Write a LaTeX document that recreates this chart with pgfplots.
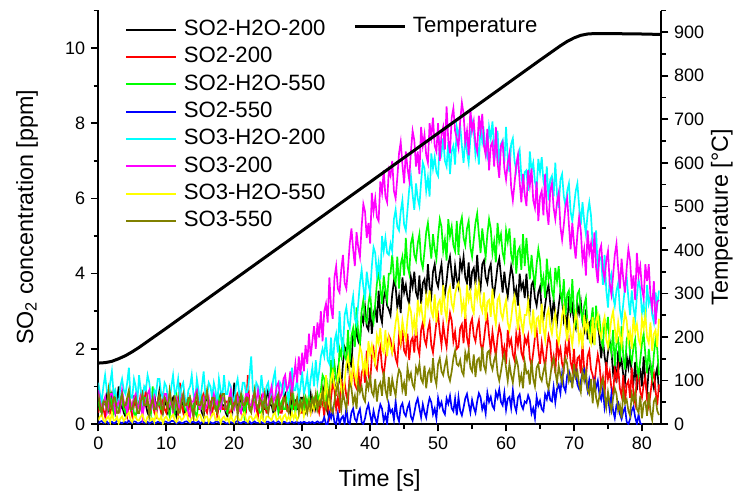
\documentclass[border=0pt]{standalone}
\usepackage{fontspec}
\setmainfont{Liberation Sans}
\usepackage{pgfplots}
\usepackage{pgfplotstable}
\pgfplotsset{compat=1.18}
\definecolor{cblack}{RGB}{0,0,0}
\definecolor{cred}{RGB}{255,0,0}
\definecolor{cgreen}{RGB}{0,255,0}
\definecolor{cblue}{RGB}{0,0,255}
\definecolor{ccyan}{RGB}{0,255,255}
\definecolor{cmagenta}{RGB}{255,0,255}
\definecolor{cyellow}{RGB}{255,255,0}
\definecolor{colive}{RGB}{128,128,0}

\pgfplotstableread{
t a b c d e f g h
0 0.7 0.3 0.6 0.02 1.1 0.9 0.1 0.8
0.25 0.4 0.5 0.4 0.06 0.8 0.6 0.2 0.5
0.5 0.3 0.6 0.3 0.08 0.6 0.4 0.25 0.3
0.75 0.5 0.4 0.6 0.03 1.0 0.5 0.1 0.6
1 0.6 0.2 0.7 0.04 1.3 0.7 0.05 0.6
1.25 0.8 0.5 0.5 0.07 0.9 0.3 0.15 0.4
1.5 0.4 0.7 0.4 0.01 0.7 0.5 0.2 0.9
1.75 0.6 0.3 0.8 0.05 1.1 0.8 0.05 0.5
2 0.8 0.4 0.5 0.06 1.4 0.8 0.3 0.4
2.25 0.5 0.7 0.3 0.02 0.8 0.6 0.1 0.7
2.5 0.3 0.5 0.8 0.03 0.9 0.3 0.1 0.7
2.75 0.6 0.3 0.5 0.08 0.6 0.5 0.2 0.3
3 1.0 0.3 0.4 0.07 0.5 0.6 0.02 0.3
3.25 0.4 0.6 0.7 0.04 1.0 0.4 0.15 0.6
3.5 0.5 0.8 0.6 0.02 1.2 0.9 0.2 0.8
3.75 0.3 0.5 0.4 0.06 0.9 0.6 0.08 0.5
4 0.2 0.4 0.3 0.05 0.8 0.5 0.15 0.5
4.25 0.6 0.2 0.6 0.03 1.1 0.3 0.25 0.7
4.5 0.7 0.6 0.7 0.09 1.5 0.7 0.3 0.9
4.75 0.4 0.4 0.4 0.04 0.7 0.6 0.1 0.4
5 0.4 0.2 0.5 0.03 0.7 0.4 0.05 0.4
5.25 0.7 0.5 0.3 0.07 1.2 0.7 0.2 0.6
5.5 0.6 0.7 0.2 0.06 1.0 0.8 0.2 0.7
5.75 0.3 0.4 0.5 0.02 0.6 0.4 0.1 0.3
6 0.3 0.5 0.6 0.02 1.3 0.5 0.1 0.3
6.25 0.5 0.8 0.4 0.05 0.9 0.7 0.2 0.6
6.5 0.8 0.3 0.4 0.08 0.6 0.2 0.25 0.8
6.75 0.6 0.6 0.7 0.03 1.0 0.5 0.1 0.5
7 0.5 0.9 0.7 0.04 0.9 0.6 0.05 0.5
7.25 0.3 0.5 0.5 0.06 1.3 0.8 0.2 0.7
7.5 0.2 0.4 0.5 0.01 1.1 0.9 0.2 0.2
7.75 0.5 0.6 0.3 0.04 0.7 0.4 0.1 0.5
8 0.6 0.6 1.0 0.07 0.5 0.5 0.15 0.7
8.25 0.8 0.3 0.6 0.02 0.9 0.7 0.05 0.4
8.5 0.4 0.2 0.3 0.03 0.8 0.3 0.3 0.4
8.75 0.6 0.5 0.5 0.06 1.2 0.6 0.15 0.6
9 0.9 0.5 0.6 0.05 1.2 0.7 0.1 0.8
9.25 0.5 0.3 0.4 0.03 0.8 0.5 0.2 0.5
9.5 0.3 0.7 0.4 0.02 0.7 0.4 0.02 0.3
9.75 0.5 0.4 0.7 0.07 1.1 0.8 0.15 0.7
10 0.6 0.3 0.7 0.06 1.0 0.8 0.2 0.6
10.25 0.3 0.6 0.4 0.03 0.7 0.4 0.1 0.4
10.5 0.4 0.8 0.2 0.04 0.6 0.5 0.1 0.9
10.75 0.6 0.5 0.6 0.08 1.0 0.6 0.2 0.6
11 0.7 0.4 0.5 0.08 1.3 0.3 0.25 0.4
11.25 0.4 0.7 0.3 0.05 0.8 0.6 0.1 0.7
11.5 0.2 0.6 0.8 0.01 0.9 0.7 0.05 0.6
11.75 0.5 0.3 0.5 0.04 1.2 0.5 0.2 0.3
12 0.8 1.1 0.4 0.05 0.7 0.4 0.2 0.3
12.25 0.6 0.5 0.7 0.02 1.0 0.7 0.1 0.6
12.5 0.5 0.3 0.6 0.03 1.1 0.8 0.15 0.8
12.75 0.3 0.6 0.4 0.06 0.7 0.5 0.25 0.5
13 0.3 0.5 0.3 0.07 0.5 0.5 0.3 0.5
13.25 0.6 0.3 0.6 0.04 0.9 0.3 0.1 0.7
13.5 0.6 0.7 0.7 0.02 1.0 0.2 0.05 0.7
13.75 0.4 0.5 0.4 0.05 1.3 0.6 0.15 0.4
14 0.4 0.2 0.5 0.06 0.8 0.6 0.2 0.2
14.25 0.7 0.5 0.3 0.03 0.6 0.8 0.1 0.6
14.5 0.9 0.6 0.2 0.04 1.2 0.9 0.1 0.8
14.75 0.5 0.4 0.6 0.07 0.9 0.5 0.25 0.5
15 0.5 0.4 0.6 0.01 0.6 0.4 0.25 0.5
15.25 0.3 0.7 0.4 0.05 1.0 0.6 0.1 0.7
15.5 0.2 0.8 0.4 0.08 1.4 0.7 0.05 0.3
15.75 0.6 0.4 0.7 0.03 0.8 0.4 0.2 0.6
16 0.7 0.3 0.8 0.03 0.7 0.5 0.2 0.9
16.25 0.5 0.6 0.5 0.06 1.1 0.7 0.05 0.5
16.5 0.4 0.6 0.3 0.05 1.0 0.3 0.15 0.4
16.75 0.7 0.3 0.6 0.02 0.7 0.6 0.25 0.7
17 0.6 0.5 0.6 0.02 1.1 0.8 0.3 0.7
17.25 0.4 0.7 0.4 0.06 0.9 0.5 0.1 0.4
17.5 0.3 0.2 0.5 0.07 0.5 0.6 0.1 0.3
17.75 0.6 0.5 0.7 0.03 1.2 0.4 0.2 0.6
18 0.8 0.7 0.4 0.04 0.9 0.4 0.02 0.6
18.25 0.5 0.4 0.6 0.07 0.7 0.7 0.15 0.8
18.5 0.5 0.4 0.7 0.06 1.3 0.7 0.2 0.8
18.75 0.3 0.6 0.4 0.02 0.8 0.4 0.1 0.4
19 0.2 0.6 0.3 0.01 0.8 0.5 0.15 0.4
19.25 0.6 0.3 0.5 0.05 1.1 0.7 0.05 0.7
19.5 0.7 0.3 0.6 0.05 1.0 0.9 0.25 0.7
19.75 0.4 0.6 0.4 0.03 0.7 0.5 0.1 0.4
20 1.1 0.5 0.4 0.03 0.6 0.4 0.05 0.5
20.25 0.6 0.7 0.6 0.06 1.0 0.6 0.2 0.7
20.5 0.4 0.8 0.7 0.08 1.2 0.7 0.2 0.2
20.75 0.7 0.4 0.4 0.03 0.8 0.4 0.1 0.6
21 0.6 0.3 0.5 0.02 0.7 0.3 0.1 0.8
21.25 0.4 0.6 0.7 0.05 1.1 0.6 0.25 0.5
21.5 0.3 0.6 0.2 0.06 1.1 0.6 0.3 0.5
21.75 0.6 0.4 0.5 0.02 0.8 0.8 0.1 0.7
22 0.7 1.3 0.6 0.04 0.9 0.8 0.05 0.7
22.25 0.4 0.5 0.4 0.07 1.3 0.5 0.2 0.4
22.5 0.5 0.4 0.4 0.01 1.8 0.5 0.2 0.3
22.75 0.6 0.7 0.7 0.04 0.9 0.7 0.1 0.6
23 0.8 0.6 0.8 0.07 0.7 0.4 0.15 0.9
23.25 0.5 0.4 0.5 0.03 1.1 0.6 0.25 0.5
23.5 0.3 0.2 0.5 0.03 1.0 0.9 0.1 0.4
23.75 0.6 0.5 0.3 0.06 0.7 0.6 0.05 0.7
24 0.6 0.7 0.3 0.05 1.3 0.6 0.25 0.6
24.25 0.4 0.4 0.6 0.02 0.9 0.8 0.1 0.3
24.5 0.4 0.5 0.6 0.02 0.6 0.7 0.05 0.8
24.75 0.7 0.3 0.4 0.06 1.0 0.5 0.2 0.5
25 0.9 0.3 0.4 0.06 1.1 0.5 0.2 0.3
25.25 0.5 0.6 0.6 0.03 0.7 0.8 0.15 0.6
25.5 0.5 0.8 0.7 0.04 0.8 1.0 0.1 0.7
25.75 0.3 0.5 0.4 0.07 1.2 0.6 0.25 0.4
26 0.3 0.4 0.5 0.01 1.4 0.7 0.3 0.5
26.25 0.6 0.6 0.7 0.05 0.8 1.0 0.1 0.7
26.5 0.7 0.6 0.3 0.07 0.7 1.1 0.15 0.8
26.75 0.4 0.3 0.5 0.03 1.1 0.7 0.2 0.4
27 0.4 0.3 0.6 0.03 1.0 0.8 0.05 0.4
27.25 0.7 0.6 0.4 0.06 0.8 1.2 0.2 0.7
27.5 0.8 0.7 0.4 0.05 1.2 1.3 0.25 0.6
27.75 0.5 0.4 0.7 0.02 0.9 0.9 0.1 0.4
28 0.5 0.5 0.8 0.02 0.6 1.0 0.2 0.3
28.25 0.3 0.8 0.5 0.05 1.1 1.4 0.1 0.6
28.5 0.7 1.1 0.4 0.06 1.5 0.8 0.3 0.8
28.75 0.5 0.4 0.7 0.03 0.9 1.2 0.15 0.5
29 0.6 0.4 0.3 0.04 0.9 1.6 0.3 0.5
29.25 0.4 0.6 0.6 0.07 1.2 1.1 0.1 0.7
29.5 0.4 0.6 0.6 0.01 0.7 1.8 0.2 0.3
29.75 0.7 0.3 0.4 0.05 1.0 1.3 0.35 0.6
30 0.7 0.3 0.6 0.03 1.4 1.9 0.5 0.4
30.25 0.4 0.6 0.4 0.06 0.8 1.4 0.2 0.7
30.5 0.3 0.7 0.7 0.04 1.0 2.1 0.4 0.5
30.75 0.6 0.4 0.5 0.02 1.3 1.6 0.3 0.3
31 0.5 0.5 0.8 0.05 0.8 2.4 0.6 0.6
31.25 0.8 0.3 0.4 0.03 1.2 1.8 0.3 0.4
31.5 0.4 0.6 0.6 0.06 1.5 2.2 0.5 0.7
31.75 0.6 0.4 0.7 0.02 1.0 2.6 0.4 0.5
32 0.4 0.7 0.5 0.04 1.7 2.0 0.7 0.8
32.25 0.7 0.5 0.8 0.07 1.1 2.7 0.4 0.4
32.5 0.5 0.3 0.6 0.03 1.4 2.3 0.6 0.6
32.75 0.8 0.6 0.9 0.05 1.8 3.0 0.8 0.5
33 0.75 0.6 1.3 0.05 2.0 2.2 0.85 0.9
33.25 1.0 0.2 1.2 0.18 1.8 3.0 0.45 0.5
33.5 0.45 0.8 0.6 0.0 2.3 3.2 1.3 0.4
33.75 0.3 0.45 1.0 0.0 1.7 2.7 0.7 0.7
34 0.7 0.2 0.5 0.31 1.6 3.9 0.5 0.9
34.25 1.2 0.7 1.7 0.16 2.3 3.1 1.2 0.4
34.5 1.45 1.1 1.25 0.37 1.5 2.8 1.4 0.3
34.75 1.1 0.9 1.6 0.04 2.2 3.9 1.0 0.6
35 0.75 0.4 1.2 0.0 2.4 4.2 0.85 0.9
35.25 1.4 0.7 1.1 0.29 1.9 3.6 1.25 1.05
35.5 1.15 0.3 2.0 0.0 3.0 3.5 1.5 0.7
35.75 1.0 1.2 1.8 0.15 2.25 4.1 0.9 0.4
36 1.6 0.85 2.3 0.21 2.0 4.5 0.75 0.85
36.25 2.05 1.1 1.8 0.0 2.9 3.75 1.15 0.6
36.5 1.95 0.75 1.7 0.44 3.1 3.6 1.6 0.4
36.75 1.5 0.6 2.5 0.05 2.7 4.15 1.8 0.8
37 1.85 1.35 1.65 0.0 2.55 4.8 1.4 1.1
37.25 1.5 1.15 2.35 0.31 3.1 5.2 1.05 0.95
37.5 2.5 1.55 2.55 0.41 3.4 4.65 1.65 0.55
37.75 2.2 1.05 2.05 0.14 2.8 4.2 1.3 0.75
38 2.5 0.95 3.1 0.06 2.65 5.1 1.1 0.4
38.25 2.2 1.55 2.4 0.28 3.2 4.7 1.65 1.1
38.5 2.1 0.85 2.15 0.4 3.75 4.45 2.05 0.85
38.75 2.9 1.35 3.0 0.05 4.1 5.25 1.9 1.0
39 2.7 1.5 3.3 0.0 3.65 5.85 1.4 0.7
39.25 3.1 1.1 2.8 0.15 3.3 5.65 1.7 0.6
39.5 2.6 1.95 2.7 0.39 4.05 4.95 1.3 1.15
39.75 2.5 1.3 3.2 0.52 3.7 5.35 2.2 0.95
40 3.1 1.1 3.5 0.25 3.5 4.8 1.85 1.25
40.25 2.4 1.8 2.9 0.02 4.2 6.15 2.1 0.85
40.5 2.95 2.0 2.7 0.35 4.7 5.65 1.75 0.75
40.75 3.1 1.55 3.2 0.15 4.55 6.0 1.6 1.2
41 2.7 1.45 3.75 0.0 3.95 5.5 2.35 0.6
41.25 3.55 1.85 4.1 0.31 4.3 5.4 2.15 1.0
41.5 2.9 2.05 3.6 0.52 3.85 6.45 2.55 1.1
41.75 2.7 1.5 3.2 0.41 5.0 6.15 2.0 0.75
42 3.35 1.3 3.95 0.08 4.6 6.75 1.9 1.4
42.25 3.55 1.7 3.55 0.24 4.95 6.05 2.5 0.9
42.5 3.15 2.1 3.3 0.0 4.55 5.9 1.8 0.7
42.75 3.05 2.35 4.0 0.52 4.5 6.75 2.3 1.25
43 2.9 2.25 4.0 0.31 4.8 6.6 2.05 0.75
43.25 3.45 1.9 4.5 0.38 4.6 7.0 1.9 1.2
43.5 3.8 2.1 3.9 0.11 5.45 6.2 2.3 0.95
43.75 3.65 1.75 3.75 0.6 5.7 6.0 2.7 0.75
44 3.1 1.6 4.45 0.21 5.25 6.55 2.95 1.2
44.25 3.4 2.35 3.6 0.07 5.15 7.2 2.55 1.45
44.5 2.95 2.1 4.25 0.46 5.65 7.5 2.2 1.35
44.75 3.9 2.5 4.45 0.55 5.95 6.9 2.75 0.9
45 3.5 1.95 3.95 0.29 5.3 6.4 2.45 1.1
45.25 3.7 1.85 4.95 0.21 5.15 7.25 2.25 0.75
45.5 3.35 2.4 4.2 0.43 5.7 6.8 2.8 1.5
45.75 3.2 1.7 4.0 0.55 6.25 6.5 3.15 1.2
46 3.9 2.2 4.8 0.2 6.6 7.25 3.0 1.35
46.25 3.65 2.3 5.0 0.09 6.1 7.8 2.5 1.05
46.5 4.05 1.9 4.5 0.3 5.7 7.55 2.8 0.95
46.75 3.5 2.7 4.35 0.55 6.4 6.85 2.35 1.5
47 3.35 2.05 4.8 0.68 6.0 7.25 3.3 1.35
47.25 3.95 1.85 5.05 0.42 5.8 6.65 2.95 1.6
47.5 3.2 2.5 4.35 0.18 6.45 7.9 3.15 1.2
47.75 3.75 2.7 4.15 0.52 6.95 7.4 2.8 1.1
48 3.85 2.25 4.6 0.31 6.8 7.7 2.65 1.55
48.25 3.45 2.1 5.1 0.17 6.2 7.15 3.4 0.95
48.5 4.25 2.5 5.35 0.48 6.55 6.95 3.15 1.35
48.75 3.65 2.7 4.85 0.69 6.05 8.0 3.55 1.45
49 3.4 2.1 4.4 0.58 7.2 7.65 3.0 1.1
49.25 4.05 1.9 5.05 0.26 6.8 8.15 2.85 1.75
49.5 4.25 2.3 4.65 0.41 7.1 7.4 3.45 1.25
49.75 3.8 2.7 4.4 0.15 6.7 7.25 2.7 1.05
50 3.65 2.9 5.0 0.69 6.6 8.0 3.2 1.6
50.25 4.0 2.45 5.45 0.46 7.45 7.0 3.3 1.75
50.5 4.25 2.1 5.25 0.58 7.2 7.7 2.9 1.4
50.75 3.65 2.65 4.6 0.35 7.6 7.9 3.7 1.3
51 3.45 2.3 4.9 0.26 7.0 7.3 3.05 1.55
51.25 3.8 2.05 4.35 0.68 6.85 8.45 2.8 1.75
51.5 4.25 2.6 5.45 0.54 7.5 7.55 3.5 1.3
51.75 4.45 2.95 5.0 0.75 6.65 7.2 3.65 1.15
52 4.0 2.75 5.25 0.42 7.25 8.15 3.2 1.4
52.25 3.6 2.2 4.75 0.34 7.4 8.4 3.05 1.75
52.5 4.2 2.45 4.6 0.67 6.9 7.8 3.45 1.95
52.75 3.85 2.0 5.4 0.23 7.9 7.6 3.65 1.6
53 3.65 2.05 4.5 0.71 7.65 7.35 3.75 1.55
53.25 4.35 2.55 5.3 0.35 7.95 8.05 3.55 1.7
53.5 4.1 2.65 5.5 0.23 7.4 8.55 3.0 1.4
53.75 4.45 2.15 4.95 0.44 6.95 8.25 3.25 1.3
54 3.9 2.95 4.75 0.68 7.65 7.5 2.8 1.9
54.25 3.75 2.3 5.2 0.8 7.25 7.8 3.7 1.7
54.5 4.3 2.05 5.4 0.54 6.95 7.15 3.3 1.95
54.75 3.55 2.65 4.7 0.31 7.6 8.4 3.5 1.5
55 4.05 2.8 4.45 0.64 8.05 7.8 3.1 1.4
55.25 4.15 2.35 4.9 0.44 7.8 8.05 2.95 1.85
55.5 3.7 2.2 5.35 0.3 7.15 7.45 3.65 1.25
55.75 4.5 2.55 5.6 0.6 7.45 7.25 3.35 1.7
56 3.85 2.75 5.05 0.82 6.9 8.2 3.7 1.75
56.25 3.6 2.15 4.55 0.71 8.0 7.8 3.15 1.4
56.5 4.25 1.95 5.2 0.39 7.5 8.25 3.0 2.05
56.75 4.35 2.25 4.8 0.54 7.75 7.4 3.5 1.55
57 3.9 2.65 4.45 0.28 7.25 7.15 2.75 1.4
57.25 3.75 2.85 5.05 0.83 7.1 7.85 3.25 1.9
57.5 4.1 2.35 5.45 0.59 7.9 6.75 3.3 1.95
57.75 4.25 1.95 5.2 0.72 7.6 7.4 2.85 1.6
58 3.65 2.45 4.55 0.48 8.05 7.5 3.6 1.45
58.25 3.45 2.1 4.85 0.4 7.35 6.85 2.95 1.7
58.5 3.8 1.8 4.3 0.84 7.15 7.9 2.65 1.85
58.75 4.2 2.3 5.35 0.7 7.8 6.95 3.3 1.35
59 4.4 2.6 4.85 0.92 6.85 6.55 3.4 1.15
59.25 3.95 2.4 5.05 0.59 7.45 7.4 2.95 1.4
59.5 3.5 1.85 4.55 0.5 7.55 7.5 2.8 1.7
59.75 4.05 2.05 4.35 0.83 6.95 6.8 3.1 1.85
60 3.65 1.6 5.15 0.38 7.9 6.5 3.3 1.5
60.25 3.4 2.5 4.85 0.67 7.05 6.95 2.7 1.15
60.5 3.85 2.1 5.2 0.72 6.7 7.2 2.5 1.6
60.75 4.2 2.25 4.5 0.43 7.45 6.3 2.8 1.3
61 3.95 1.85 4.3 0.9 7.6 5.95 3.2 1.1
61.25 3.4 1.7 4.95 0.5 7.0 6.4 3.4 1.45
61.5 3.6 2.4 4.0 0.34 6.75 6.9 2.95 1.75
61.75 3.15 2.1 4.6 0.71 7.15 7.15 2.5 1.55
62 4.0 2.45 4.7 0.79 7.3 6.45 3.05 1.1
62.25 3.6 1.9 4.1 0.51 6.6 5.9 2.7 1.3
62.5 3.75 1.75 5.05 0.4 6.3 6.65 2.45 0.95
62.75 3.35 2.3 4.2 0.6 6.7 6.1 2.9 1.65
63 4.0 2.15 4.95 0.56 6.75 5.8 2.9 1.35
63.25 3.35 2.35 4.35 0.76 6.2 6.75 3.25 1.4
63.5 3.05 1.75 3.85 0.63 7.25 6.35 2.7 1.05
63.75 3.7 1.55 4.5 0.28 6.75 6.8 2.5 1.7
64 3.8 1.9 4.0 0.42 6.95 5.95 3.05 1.2
64.25 3.35 2.3 3.7 0.16 6.45 5.75 2.3 1.0
64.5 3.15 2.5 4.25 0.72 6.25 6.45 2.8 1.5
64.75 3.5 2.0 4.65 0.49 7.05 5.4 2.85 1.6
65 3.65 1.6 4.35 0.62 6.7 6.05 2.4 1.25
65.25 3.05 2.15 3.65 0.4 7.1 6.2 3.2 1.15
65.5 2.8 1.8 3.9 0.34 6.45 5.55 2.55 1.4
65.75 3.15 1.5 3.35 0.79 6.25 6.65 2.25 1.6
66 3.5 2.0 4.4 0.66 6.85 5.7 2.9 1.1
66.25 3.7 2.35 3.85 0.92 5.95 5.3 3.05 0.95
66.5 3.2 2.15 4.05 0.64 6.5 6.2 2.6 1.25
66.75 2.8 1.55 3.55 0.6 6.6 6.4 2.4 1.6
67 3.3 1.8 3.35 0.98 6.05 5.75 2.75 1.75
67.25 2.95 1.35 4.15 0.58 6.95 5.45 2.95 1.4
67.5 2.7 2.25 3.8 0.93 6.1 5.9 2.35 1.1
67.75 3.15 1.8 4.2 1.04 5.75 6.15 2.15 1.55
68 3.5 2.0 3.5 0.82 6.5 5.25 2.5 1.3
68.25 3.3 1.6 3.25 1.34 6.65 4.9 2.9 1.1
68.5 2.75 1.45 3.85 0.99 6.05 5.3 3.1 1.5
68.75 2.95 2.1 2.9 0.87 5.8 5.8 2.6 1.75
69 2.5 1.85 3.45 1.3 6.2 6.0 2.2 1.6
69.25 3.4 2.2 3.55 1.4 6.4 5.3 2.75 1.15
69.5 2.95 1.65 2.95 1.15 5.65 4.65 2.4 1.3
69.75 3.15 1.45 3.85 1.07 5.4 5.35 2.1 0.95
70 2.7 2.0 3.0 1.29 5.8 4.8 2.6 1.6
70.25 2.55 1.25 2.7 1.41 6.2 4.4 2.95 1.25
70.5 3.2 1.75 3.45 1.05 6.4 5.05 2.75 1.4
70.75 2.95 1.8 3.55 0.93 5.8 5.5 2.2 1.05
71 3.25 1.35 3.0 1.14 5.3 5.15 2.45 0.85
71.25 2.7 2.15 2.75 1.36 5.9 4.35 2.0 1.4
71.5 2.5 1.45 3.15 1.45 5.4 4.65 2.9 1.15
71.75 3.05 1.2 3.35 1.16 5.05 3.95 2.5 1.4
72 2.25 1.8 2.6 0.89 5.6 5.15 2.7 0.9
72.25 2.7 1.95 2.3 1.18 5.9 4.55 2.3 0.8
72.5 2.75 1.45 2.7 0.94 5.55 4.8 2.15 1.2
72.75 2.25 1.3 3.1 0.75 4.75 4.15 2.85 0.55
73 2.4 1.05 2.1 1.16 4.7 5.1 2.1 1.2
73.25 2.7 1.5 3.15 0.97 5.15 4.15 2.75 0.7
73.5 2.8 1.85 2.6 1.15 4.05 3.75 2.9 0.5
73.75 2.25 1.6 2.8 0.78 4.45 4.6 2.45 0.75
74 1.75 1.0 2.25 0.65 4.4 4.75 2.3 1.05
74.25 2.25 1.25 2.05 0.93 3.7 4.1 2.65 1.2
74.5 1.8 0.75 2.8 0.43 4.5 3.85 2.85 0.8
74.75 1.5 1.65 2.45 0.68 3.55 4.35 2.25 0.45
75 1.9 1.2 2.85 0.69 3.1 4.6 2.05 0.85
75.25 2.2 1.4 2.15 0.37 3.85 3.75 2.4 0.55
75.5 1.95 0.95 1.9 0.8 4.0 3.45 2.8 0.35
75.75 1.35 0.8 2.5 0.36 3.4 3.95 3.0 0.7
76 1.55 1.45 1.55 0.16 3.15 4.5 2.55 0.95
76.25 1.1 1.2 2.15 0.51 3.55 4.8 2.15 0.8
76.5 1.95 1.5 2.25 0.57 3.75 4.15 2.7 0.35
76.75 1.55 0.95 1.65 0.26 3.05 3.6 2.35 0.5
77 1.7 0.75 2.6 0.13 2.75 4.4 2.1 0.15
77.25 1.3 1.3 1.8 0.33 3.2 3.85 2.6 0.85
77.5 1.1 0.55 1.45 0.44 3.65 3.5 2.95 0.55
77.75 1.8 1.05 2.25 0.06 3.9 4.15 2.75 0.65
78 1.5 1.15 2.4 0.0 3.35 4.65 2.2 0.35
78.25 1.85 0.7 1.85 0.13 2.9 4.35 2.45 0.22
78.5 1.3 1.5 1.65 0.36 3.55 3.6 2.0 0.8
78.75 1.1 0.8 2.05 0.46 3.1 3.95 2.85 0.6
79 1.65 0.55 2.25 0.18 2.8 3.3 2.45 0.85
79.25 0.9 1.2 1.55 0.0 3.4 4.55 2.65 0.4
79.5 1.4 1.35 1.3 0.25 3.85 3.95 2.25 0.3
79.75 1.45 0.85 1.7 0.02 3.6 4.2 2.1 0.75
80 1.0 0.7 2.15 0.0 2.95 3.6 2.8 0.15
80.25 1.8 1.05 2.4 nan 3.2 3.35 2.55 0.55
80.5 1.1 1.25 1.85 nan 2.65 4.25 2.9 0.6
80.75 0.85 0.65 1.35 nan 3.7 3.8 2.3 0.22
81 1.45 0.45 2.0 nan 3.2 4.25 2.15 0.85
81.25 1.6 0.8 1.55 nan 3.4 3.4 2.7 0.32
81.5 1.15 1.2 1.25 nan 2.9 3.1 1.95 0.11
81.75 0.95 1.35 1.85 nan 2.7 3.8 2.4 0.6
82 1.3 0.9 2.25 nan 3.5 2.65 2.5 0.7
82.25 1.5 0.5 2.0 nan 3.15 3.25 2.05 0.35
82.5 0.85 1.05 1.3 nan 3.55 3.3 2.8 0.24
}\conc

\pgfplotstableread{
t T
0 140
1 141
2 144
3 150
4 157
5 166
6 176
7 187
8 198
9 209
10 220
15 276
20 332
25 388
30 444
35 500
40 556
45 612
50 668
55 724
60 780
65 836
67 858
68 869
69 879
70 887
71 893
72 896
73 897
75 897
80 896
82.7 895
}\temp

\pgfplotsset{
  common/.style={
    scale only axis, width=337.6pt, height=248.1pt,
    xmin=0, xmax=82.8,
    tick align=outside,
    /pgf/number format/assume math mode=true,
    ticklabel style={font=\fontsize{10.8}{12}\selectfont},
    label style={font=\fontsize{14}{16}\selectfont},
    axis line style={-, line width=1.1pt},
    tick style={line width=1pt, black},
    major tick length=4.4pt, minor tick length=2.8pt,
    legend style={draw=none, fill=none, font=\fontsize{13.3}{16}\selectfont,
      inner sep=0pt, row sep=1.4pt, column sep=3pt,
      nodes={inner sep=1pt, text height=10pt, text depth=3pt},
      cells={anchor=west}},
  },
}

\begin{document}
\begin{tikzpicture}
\begin{axis}[common, name=ax,
  axis x line*=bottom, axis y line*=left,
  ymin=0, ymax=11,
  ytick={0,2,...,10}, minor ytick={1,3,...,11},
  xtick={0,10,...,80}, minor xtick={5,15,...,75},
  xlabel={Time [s]},
  ylabel={SO\textsubscript{2} concentration [ppm]},
  x label style={at={(axis description cs:0.5,-0.152)}, anchor=base},
  y label style={at={(axis description cs:-0.116,0.5)}, anchor=base, rotate=0},
  legend style={at={(axis description cs:0.047,0.985)}, anchor=north west},
  legend image code/.code={\draw[#1, line width=1.2pt] (0pt,0pt) -- (30pt,0pt);},
  every axis plot/.append style={line width=1pt},
]
\addplot[cblack] table[x=t,y=a]{\conc}; \addlegendentry{SO2-H2O-200}
\addplot[cred] table[x=t,y=b]{\conc}; \addlegendentry{SO2-200}
\addplot[cgreen] table[x=t,y=c]{\conc}; \addlegendentry{SO2-H2O-550}
\addplot[cblue] table[x=t,y=d]{\conc}; \addlegendentry{SO2-550}
\addplot[ccyan] table[x=t,y=e]{\conc}; \addlegendentry{SO3-H2O-200}
\addplot[cmagenta] table[x=t,y=f]{\conc}; \addlegendentry{SO3-200}
\addplot[cyellow] table[x=t,y=g]{\conc}; \addlegendentry{SO3-H2O-550}
\addplot[colive] table[x=t,y=h]{\conc}; \addlegendentry{SO3-550}
\end{axis}
\begin{axis}[common,
  axis x line=none, axis y line*=right,
  ymin=0, ymax=950,
  ytick={0,100,...,900}, minor ytick={50,150,...,950},
  ylabel={Temperature [°C]},
  y label style={at={(axis description cs:1.119,0.5)}, anchor=base, rotate=0},
  legend style={at={(axis description cs:0.4526,0.992)}, anchor=north west},
  legend image code/.code={\draw[#1] (0pt,0pt) -- (30pt,0pt);},
]
\addplot[black, line width=1.8pt] table[x=t,y=T]{\temp}; \addlegendentry{Temperature}
\end{axis}
\pgfresetboundingbox
\path[use as bounding box] ([xshift=-58.98pt,yshift=-42.6pt]ax.south west) rectangle ([xshift=43.2pt,yshift=6.3pt]ax.north east);
\end{tikzpicture}
\end{document}
